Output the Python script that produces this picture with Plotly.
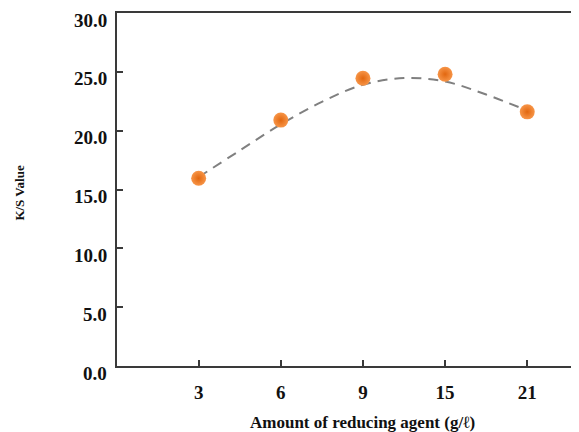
import plotly.graph_objects as go

categories = ["3", "6", "9", "15", "21"]
ks_values = [15.95, 20.9, 24.45, 24.8, 21.6]
y_ticks = [0, 5, 10, 15, 20, 25, 30]
# dashed trend curve (category-index position, K/S)
trend_pos = [0, 0.5, 1, 1.5, 2, 2.5, 3, 3.5, 4]
trend_val = [16.06, 18.31, 20.54, 22.45, 23.9, 24.47, 24.18, 23.07, 21.71]

idx = list(range(len(categories)))

FONT = "Liberation Serif"
AX = "#3a3a3a"
TXT = "#111111"

fig = go.Figure()
fig.add_trace(go.Scatter(x=trend_pos, y=trend_val, mode="lines",
                         line=dict(color="#808080", width=2, dash="10px,7px",
                                   shape="spline", smoothing=1.0),
                         hoverinfo="skip", showlegend=False))
fig.add_trace(go.Scatter(x=idx, y=ks_values, mode="markers",
                         marker=dict(size=15, color="#F79548",
                                     gradient=dict(type="radial", color="#E2670F"),
                                     line=dict(width=0)),
                         showlegend=False))

# y tick labels sit slightly below their ticks in the reference
annotations = [
    dict(text=f"{v:.1f}", xref="paper", yref="y", x=0, y=v,
         xanchor="right", yanchor="middle", xshift=-8, yshift=-7,
         showarrow=False, font=dict(family=FONT, size=19, color=TXT, weight="bold"))
    for v in y_ticks
]
annotations += [
    dict(text="K/S Value", textangle=-90, xref="paper", yref="paper",
         x=-0.213, y=0.49, xanchor="center", yanchor="middle", showarrow=False,
         font=dict(family=FONT, size=13, color=TXT, weight="bold")),
    dict(text="Amount of reducing agent (g/ℓ)", xref="x", yref="paper",
         x=2, y=-0.1606, xanchor="center", yanchor="middle", showarrow=False,
         font=dict(family=FONT, size=17, color=TXT, weight="bold")),
]

# the page body adds an 8px offset; the figure is sized to fill the window
fig.update_layout(
    width=571, height=424,
    margin=dict(l=109, r=0, t=5, b=66),
    paper_bgcolor="white", plot_bgcolor="white",
    font=dict(family=FONT, color=TXT),
    xaxis=dict(range=[-0.994, 4.63], tickmode="array", tickvals=idx,
               ticktext=categories, showgrid=False, zeroline=False,
               showline=True, linecolor=AX, linewidth=2, mirror=True,
               ticks="inside", ticklen=6, tickwidth=1.5, tickcolor=AX,
               tickfont=dict(family=FONT, size=19, color=TXT, weight="bold"),
               ticklabelstandoff=8),
    yaxis=dict(range=[0, 30], tickvals=y_ticks, showticklabels=False,
               showgrid=False, zeroline=False,
               showline=True, linecolor=AX, linewidth=2,
               ticks="inside", ticklen=6, tickwidth=1.5, tickcolor=AX),
    annotations=annotations,
)

fig.write_html("out.html")
